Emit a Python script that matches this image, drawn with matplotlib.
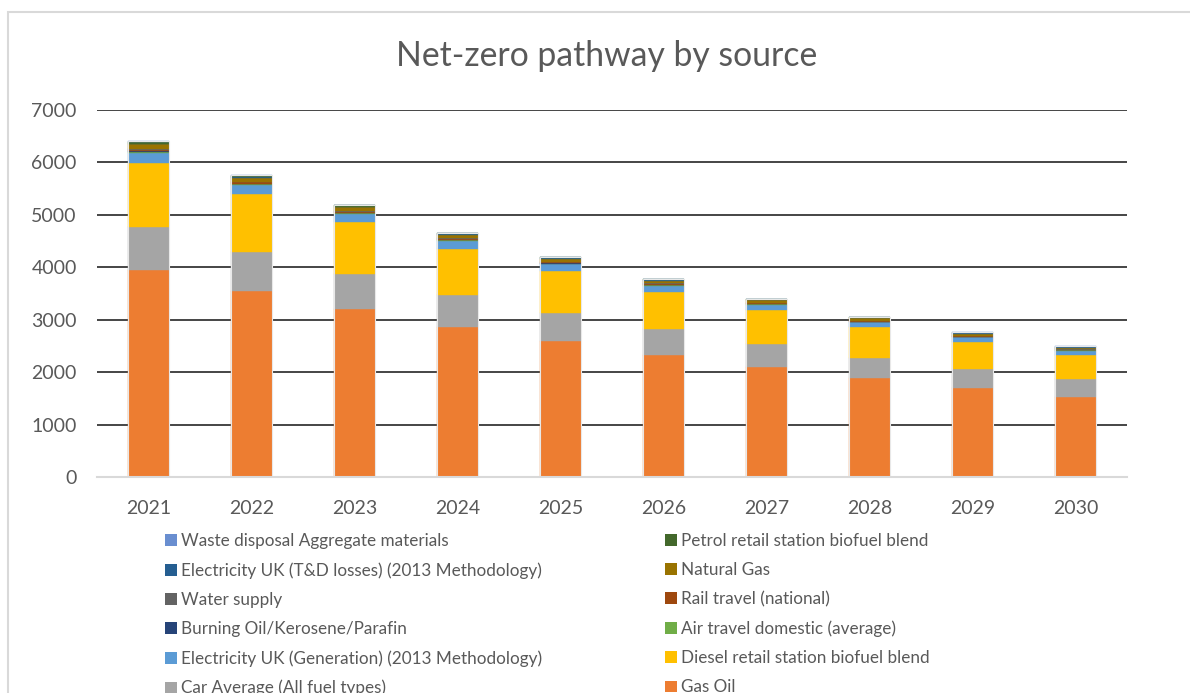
import matplotlib
matplotlib.use('Agg')
from matplotlib import pyplot as plt
from matplotlib.patches import Patch, Rectangle
import numpy as np

plt.rcParams['font.family'] = ['Lato', 'DejaVu Sans']

years = ['2021', '2022', '2023', '2024', '2025', '2026', '2027', '2028', '2029', '2030']

# stacked from the bottom up
gas_oil = [3950, 3550, 3200, 2870, 2590, 2330, 2100, 1880, 1700, 1530]
car_average = [825, 745, 670, 600, 540, 490, 440, 395, 355, 330]
diesel_blend = [1215, 1095, 985, 885, 795, 715, 645, 580, 525, 470]
elec_generation = [195, 175, 160, 145, 130, 115, 105, 93, 85, 75]
air_travel = [20, 18, 16, 15, 13, 12, 11, 10, 9, 8]
burning_oil = [10, 9, 8, 7, 6, 6, 5, 5, 4, 4]
rail_travel = [30, 27, 24, 22, 20, 18, 16, 14, 13, 12]
water_supply = [10, 9, 8, 7, 6, 6, 5, 5, 4, 4]
natural_gas = [90, 81, 73, 66, 59, 53, 48, 43, 39, 35]
elec_td_losses = [15, 14, 12, 11, 10, 9, 8, 7, 6, 6]
petrol_blend = [30, 27, 24, 22, 20, 18, 16, 14, 13, 12]
waste_disposal = [10, 9, 8, 7, 6, 6, 5, 5, 4, 4]

series = [
    ('Gas Oil', gas_oil, '#ED7D31'),
    ('Car Average (All fuel types)', car_average, '#A5A5A5'),
    ('Diesel retail station biofuel blend', diesel_blend, '#FFC000'),
    ('Electricity UK (Generation) (2013 Methodology)', elec_generation, '#5B9BD5'),
    ('Air travel domestic (average)', air_travel, '#70AD47'),
    ('Burning Oil/Kerosene/Parafin', burning_oil, '#264478'),
    ('Rail travel (national)', rail_travel, '#9E480E'),
    ('Water supply', water_supply, '#636363'),
    ('Natural Gas', natural_gas, '#997300'),
    ('Electricity UK (T&D losses) (2013 Methodology)', elec_td_losses, '#255E91'),
    ('Petrol retail station biofuel blend', petrol_blend, '#43682B'),
    ('Waste disposal Aggregate materials', waste_disposal, '#698ED0'),
]

W, H = 1190, 693
fig = plt.figure(figsize=(W / 100, H / 100), dpi=100)
fig.patch.set_facecolor('white')

# chart area border (runs off the right and bottom of the picture)
fig.add_artist(Rectangle((8 / W, -0.1), 1.2, 1.1 - 12 / H, transform=fig.transFigure,
                         fill=False, edgecolor='#D9D9D9', linewidth=1.5))

ax = fig.add_axes([97 / W, (H - 477) / H, (1127 - 97) / W, (477 - 110) / H])
x = np.arange(len(years))
bottom = np.zeros(len(years))
handles = {}
for name, vals, color in series:
    ax.bar(x, vals, 0.4, bottom=bottom, color=color, edgecolor=color, linewidth=0.3)
    bottom += np.array(vals)
    handles[name] = Patch(facecolor=color)

# faint light outline round each whole bar, like the original
ax.bar(x, bottom, 0.4, fill=False, edgecolor='#E8E8E8', linewidth=0.8)

ax.set_xlim(-0.5, len(years) - 0.5)
ax.set_ylim(0, 7000)
ax.set_yticks(range(0, 7001, 1000))
ax.set_xticks(x)
ax.set_xticklabels(years)
ax.yaxis.grid(True, color='#262626', linewidth=1.2)
ax.set_axisbelow(True)
for s in ['top', 'right', 'left']:
    ax.spines[s].set_visible(False)
ax.spines['bottom'].set_color('#D9D9D9')
ax.spines['bottom'].set_linewidth(1.5)
ax.spines['bottom'].set_zorder(3)
ax.tick_params(length=0, labelsize=14, colors='#595959')
ax.tick_params(axis='y', pad=14.5)
ax.tick_params(axis='x', pad=16.5)

fig.text(607 / W, (H - 56) / H, 'Net-zero pathway by source', ha='center', va='center',
         fontsize=24.3, color='#595959')

left_col = ['Waste disposal Aggregate materials',
            'Electricity UK (T&D losses) (2013 Methodology)',
            'Water supply', 'Burning Oil/Kerosene/Parafin',
            'Electricity UK (Generation) (2013 Methodology)',
            'Car Average (All fuel types)']
right_col = ['Petrol retail station biofuel blend', 'Natural Gas',
             'Rail travel (national)', 'Air travel domestic (average)',
             'Diesel retail station biofuel blend', 'Gas Oil']

for names, xpos in [(left_col, 165), (right_col, 665)]:
    leg = fig.legend([handles[n] for n in names], names, loc='upper left',
                     bbox_to_anchor=(xpos / W, (H - 533) / H), frameon=False,
                     fontsize=12.3, labelcolor='#595959', handlelength=0.7,
                     handleheight=0.7, handletextpad=0.22, labelspacing=0.77,
                     borderpad=0, borderaxespad=0)

fig.savefig('out.png', dpi=100)
